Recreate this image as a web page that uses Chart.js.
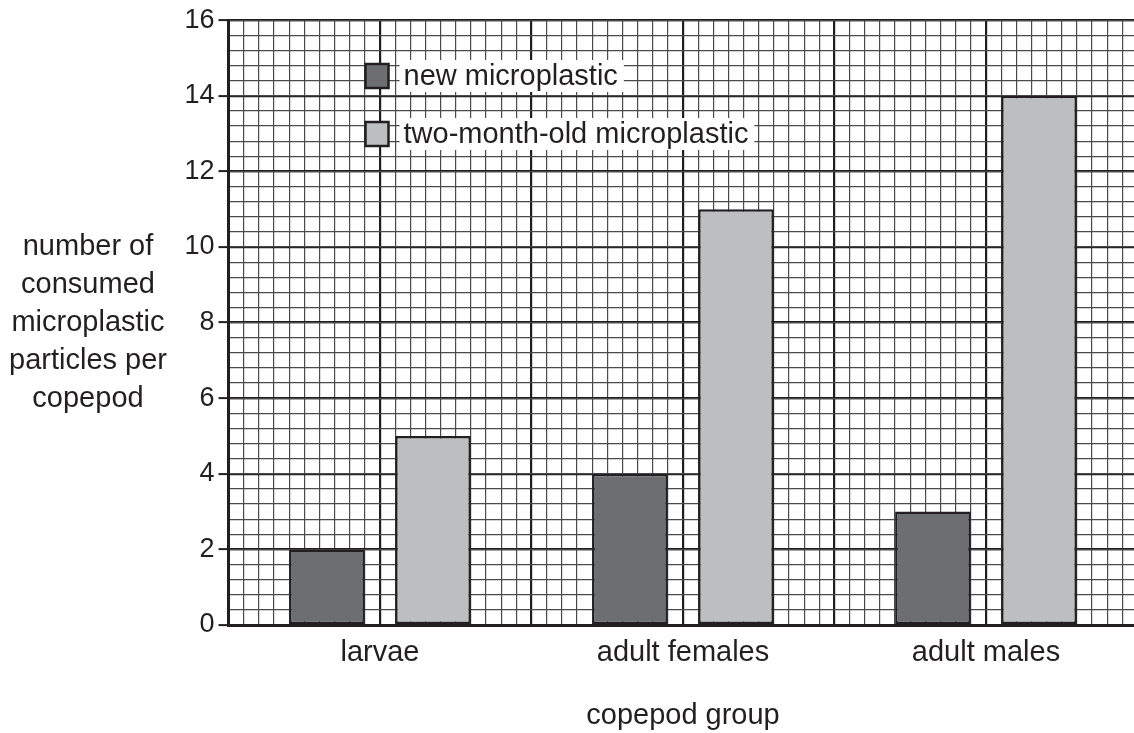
<!DOCTYPE html>
<html>
<head>
<meta charset="utf-8">
<script src="https://cdn.jsdelivr.net/npm/chart.js@4.4.0/dist/chart.umd.min.js"></script>
<style>
  html, body { margin: 0; padding: 0; background: #fff; overflow: hidden; }
  #wrap { position: relative; width: 1140px; height: 733px; }
</style>
</head>
<body>
<div id="wrap"><canvas id="chart"></canvas></div>
<script>
// Data
const groups = ['larvae', 'adult females', 'adult males'];
const newPlastic = [2, 4, 3];
const oldPlastic = [5, 11, 14];
const seriesNames = ['new microplastic', 'two-month-old microplastic'];
const yTitleLines = ['number of', 'consumed', 'microplastic', 'particles per', 'copepod'];
const xTitle = 'copepod group';

const ink = '#231f20';
const majorLine = '#1e1e1e';
const minorLine = '#4a4a4a';
const fontFamily = "'Liberation Sans', Arial, sans-serif";
const textSize = 29;

const isMajor = c => c.tick && Math.round(c.tick.value) % 10 === 0;

// y-axis title drawn horizontally, left of the axis
const yTitlePlugin = {
    id: 'yTitle',
    afterDraw(chart) {
        const ctx = chart.ctx;
        ctx.save();
        ctx.font = `${textSize}px ${fontFamily}`;
        ctx.fillStyle = ink;
        ctx.textAlign = 'center';
        ctx.textBaseline = 'middle';
        yTitleLines.forEach((line, i) => {
            ctx.fillText(line, 88, 247 + i * 38);
        });
        ctx.restore();
    }
};

// legend boxes inside the plot, text on a white patch
const legendPlugin = {
    id: 'innerLegend',
    afterDatasetsDraw(chart) {
        const ctx = chart.ctx;
        const left = chart.chartArea.left;
        ctx.save();
        ctx.font = `${textSize}px ${fontFamily}`;
        chart.data.datasets.forEach((ds, i) => {
            const cy = 76 + i * 58;
            const bx = left + 137;
            ctx.fillStyle = ds.backgroundColor;
            ctx.fillRect(bx, cy - 12, 23, 24);
            ctx.lineWidth = 2.5;
            ctx.strokeStyle = ink;
            ctx.strokeRect(bx, cy - 12, 23, 24);

            const tx = left + 175;
            const w = ctx.measureText(ds.label).width;
            ctx.fillStyle = '#fff';
            ctx.fillRect(tx - 4, cy - 16, w + 10, 32);
            ctx.fillStyle = ink;
            ctx.textAlign = 'left';
            ctx.textBaseline = 'middle';
            ctx.fillText(ds.label, tx, cy + 1);
        });
        ctx.restore();
    }
};

const barStyle = {
    borderColor: ink,
    borderWidth: 2.5,
    borderSkipped: false,
    categoryPercentage: 0.7,
    barPercentage: 0.714,
    xAxisID: 'x',
    yAxisID: 'y'
};

new Chart(document.getElementById('chart'), {
    type: 'bar',
    data: {
        labels: groups,
        datasets: [
            { label: seriesNames[0], data: newPlastic, backgroundColor: '#6d6e70', ...barStyle },
            { label: seriesNames[1], data: oldPlastic, backgroundColor: '#bcbec0', ...barStyle }
        ]
    },
    options: {
        responsive: true,
        maintainAspectRatio: false,
        animation: false,
        layout: { padding: { left: 178.5, right: 2.5, top: 19.4, bottom: 0 } },
        plugins: {
            legend: { display: false },
            tooltip: { enabled: false }
        },
        scales: {
            x: {
                type: 'category',
                position: 'bottom',
                grid: { display: false, drawTicks: false },
                border: { display: true, color: ink, width: 3 },
                ticks: {
                    color: ink,
                    font: { family: fontFamily, size: textSize },
                    padding: 11
                },
                title: {
                    display: true,
                    text: xTitle,
                    color: ink,
                    font: { family: fontFamily, size: textSize },
                    padding: { top: 27, bottom: 0 }
                },
                afterFit(scale) { scale.height = 108; }
            },
            xGrid: {
                type: 'linear',
                position: 'top',
                min: 0,
                max: 60,
                offset: false,
                z: -1,
                ticks: { display: false, stepSize: 1 },
                grid: {
                    offset: false,
                    drawTicks: false,
                    color: c => (isMajor(c) ? majorLine : minorLine),
                    lineWidth: c => (isMajor(c) ? 2.2 : 1.2)
                },
                border: { display: false }
            },
            y: {
                type: 'linear',
                min: 0,
                max: 16,
                ticks: {
                    color: ink,
                    font: { family: fontFamily, size: 27 },
                    padding: 4,
                    stepSize: 2
                },
                grid: {
                    color: majorLine,
                    lineWidth: 2.2,
                    tickLength: 10,
                    tickColor: ink,
                    tickWidth: 2
                },
                border: { display: true, color: ink, width: 3 },
                afterFit(scale) { scale.width = 50; }
            },
            yGrid: {
                type: 'linear',
                position: 'left',
                min: 0,
                max: 16,
                z: -1,
                ticks: { display: false, stepSize: 0.4 },
                grid: { drawTicks: false, color: minorLine, lineWidth: 1.2 },
                border: { display: false },
                afterFit(scale) { scale.width = 0; }
            }
        }
    },
    plugins: [yTitlePlugin, legendPlugin]
});
</script>
</body>
</html>
